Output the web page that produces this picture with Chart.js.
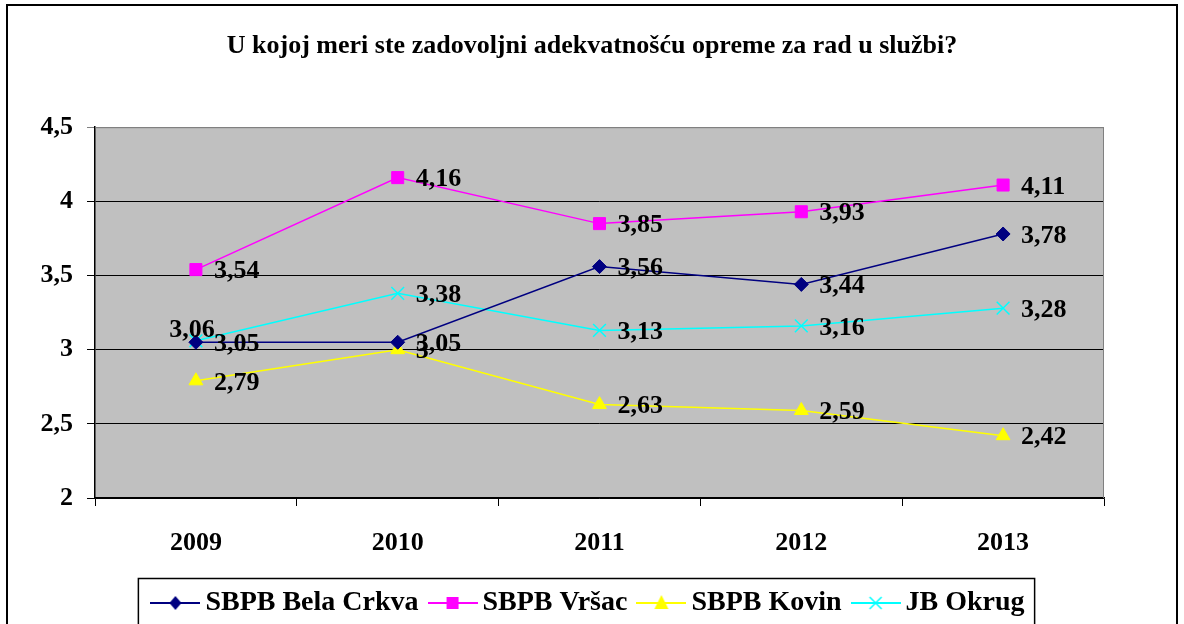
<!DOCTYPE html>
<html>
<head>
<meta charset="utf-8">
<script src="https://cdn.jsdelivr.net/npm/chart.js@4.4.1/dist/chart.umd.min.js"></script>
<style>
  html, body { margin: 0; padding: 0; background: #ffffff; }
  #wrap { width: 1184px; height: 624px; position: relative; }
</style>
</head>
<body>
<div id="wrap"><canvas id="c" width="1184" height="624"></canvas></div>
<script>
// ---- data ----
const categories = ['2009', '2010', '2011', '2012', '2013'];
const belaCrkva = [3.05, 3.05, 3.56, 3.44, 3.78];
const vrsac     = [3.54, 4.16, 3.85, 3.93, 4.11];
const kovin     = [2.79, 3.00, 2.63, 2.59, 2.42];
const jbOkrug   = [3.06, 3.38, 3.13, 3.16, 3.28];
const seriesNames = ['SBPB Bela Crkva', 'SBPB Vršac', 'SBPB Kovin', 'JB Okrug'];
const yTicks = [2, 2.5, 3, 3.5, 4, 4.5];
const titleText = 'U kojoj meri ste zadovoljni adekvatnošću opreme za rad u službi?';

const SERIF = '"Liberation Serif", "Times New Roman", serif';
const colors = ['#000080', '#FF00FF', '#FFFF00', '#00FFFF'];
const styles = ['rectRot', 'rect', 'triangle', 'crossRot'];
const radii = [7, 8.5, 8, 9];

function fmt(v) {
  return String(Math.round(v * 100) / 100).replace('.', ',');
}

// legend icons: line + marker
function makeIcon(color, style) {
  const cv = document.createElement('canvas');
  cv.width = 50; cv.height = 18;
  const g = cv.getContext('2d');
  g.strokeStyle = color; g.lineWidth = 2;
  g.beginPath(); g.moveTo(0, 9); g.lineTo(50, 9); g.stroke();
  g.fillStyle = color;
  const cx = 25, cy = 9;
  if (style === 'rectRot') {
    g.beginPath(); g.moveTo(cx, cy - 7); g.lineTo(cx + 6, cy); g.lineTo(cx, cy + 7); g.lineTo(cx - 6, cy); g.closePath(); g.fill();
  } else if (style === 'rect') {
    g.fillRect(cx - 6, cy - 6, 12, 12);
  } else if (style === 'triangle') {
    g.beginPath(); g.moveTo(cx, cy - 8); g.lineTo(cx + 7, cy + 6); g.lineTo(cx - 7, cy + 6); g.closePath(); g.fill();
  } else {
    g.lineWidth = 1.5;
    g.beginPath(); g.moveTo(cx - 6, cy - 6); g.lineTo(cx + 6, cy + 6); g.moveTo(cx + 6, cy - 6); g.lineTo(cx - 6, cy + 6); g.stroke();
  }
  return cv;
}
const legendIcons = colors.map((c, i) => makeIcon(c, styles[i]));

const seriesData = [belaCrkva, vrsac, kovin, jbOkrug];
const datasets = seriesData.map((d, i) => ({
  label: seriesNames[i],
  data: d,
  yAxisID: 'y',
  borderColor: colors[i],
  backgroundColor: colors[i],
  pointBackgroundColor: colors[i],
  pointBorderColor: colors[i],
  pointStyle: styles[i],
  pointRadius: radii[i],
  pointHoverRadius: radii[i],
  pointBorderWidth: styles[i] === 'crossRot' ? 1.5 : 1,
  borderWidth: 1.5,
  tension: 0,
  fill: false
}));

// special label placement (JB Okrug 2009 sits above-left)
const labelAbove = { '3-0': true };

const bgPlugin = {
  id: 'bg',
  beforeDraw(chart) {
    const { ctx, chartArea: a } = chart;
    ctx.save();
    ctx.fillStyle = '#ffffff';
    ctx.fillRect(0, 0, chart.width, chart.height);
    ctx.fillStyle = '#C0C0C0';
    ctx.fillRect(a.left, a.top, a.right - a.left, a.bottom - a.top);
    ctx.restore();
  },
  afterDraw(chart) {
    const { ctx, chartArea: a } = chart;
    ctx.save();
    // plot border top/right
    ctx.strokeStyle = '#808080';
    ctx.lineWidth = 1;
    ctx.beginPath();
    ctx.moveTo(a.left, a.top + 0.5); ctx.lineTo(a.right - 0.5, a.top + 0.5); ctx.lineTo(a.right - 0.5, a.bottom);
    ctx.stroke();
    // outer frame
    ctx.strokeStyle = '#000000';
    ctx.lineWidth = 2;
    ctx.strokeRect(7, 5, 1170, 640);
    // legend frame
    const lg = chart.legend;
    if (lg && lg.legendHitBoxes && lg.legendHitBoxes.length) {
      const hb = lg.legendHitBoxes;
      const l = Math.min(...hb.map(h => h.left)) - 21;
      const r = Math.max(...hb.map(h => h.left + h.width)) + 10;
      ctx.lineWidth = 1.5;
      ctx.strokeRect(l, 578.5, r - l, 60);
    }
    ctx.restore();
  }
};

const labelPlugin = {
  id: 'vlabels',
  afterDatasetsDraw(chart) {
    const { ctx } = chart;
    ctx.save();
    ctx.font = 'bold 26px ' + SERIF;
    ctx.fillStyle = '#000000';
    ctx.textBaseline = 'middle';
    chart.data.datasets.forEach((ds, di) => {
      const meta = chart.getDatasetMeta(di);
      meta.data.forEach((pt, i) => {
        const txt = fmt(ds.data[i]);
        if (labelAbove[di + '-' + i]) {
          ctx.textAlign = 'center';
          ctx.fillText(txt, pt.x - 4, pt.y - 10);
        } else {
          ctx.textAlign = 'left';
          ctx.fillText(txt, pt.x + 18, pt.y + 2);
        }
      });
    });
    ctx.restore();
  }
};

new Chart(document.getElementById('c'), {
  type: 'line',
  data: { labels: categories, datasets },
  plugins: [bgPlugin, labelPlugin],
  options: {
    responsive: false,
    animation: false,
    events: [],
    layout: { padding: { left: 0, right: 0, top: 0, bottom: -3 } },
    plugins: {
      tooltip: { enabled: false },
      title: {
        display: true,
        text: titleText,
        color: '#000000',
        font: { family: SERIF, size: 26, weight: 'bold' },
        padding: { top: 31, bottom: 65 }
      },
      legend: {
        display: true,
        position: 'bottom',
        labels: {
          usePointStyle: true,
          pointStyleWidth: 32,
          padding: 18,
          color: '#000000',
          font: { family: SERIF, size: 28, weight: 'bold' },
          generateLabels(chart) {
            const items = Chart.defaults.plugins.legend.labels.generateLabels(chart);
            items.forEach((it, i) => { it.pointStyle = legendIcons[i]; });
            return items;
          }
        }
      }
    },
    scales: {
      x: {
        type: 'category',
        offset: true,
        afterFit(s) { s.height = 73; },
        grid: { display: true, drawOnChartArea: false, offset: true, tickLength: 8, color: '#000000', lineWidth: 1 },
        border: { display: true, color: '#000000', width: 1.5 },
        ticks: { color: '#000000', padding: 22, font: { family: SERIF, size: 26, weight: 'bold' } }
      },
      y: {
        min: 2,
        max: 4.5,
        position: 'left',
        afterFit(s) { s.width = 95; },
        afterBuildTicks(s) { s.ticks = yTicks.map(v => ({ value: v })); },
        grid: {
          display: true, drawOnChartArea: true, tickLength: 8, lineWidth: 1,
          color: (c) => (c.tick && c.tick.value === 4.5) ? '#808080' : '#000000'
        },
        border: { display: true, color: '#000000', width: 1.5 },
        ticks: {
          color: '#000000', padding: 14,
          font: { family: SERIF, size: 26, weight: 'bold' },
          callback: (v) => fmt(v)
        }
      },
      yRight: {
        type: 'linear',
        position: 'right',
        display: true,
        afterFit(s) { s.width = 80; },
        grid: { display: false },
        border: { display: false },
        ticks: { display: false }
      }
    }
  }
});
</script>
</body>
</html>
